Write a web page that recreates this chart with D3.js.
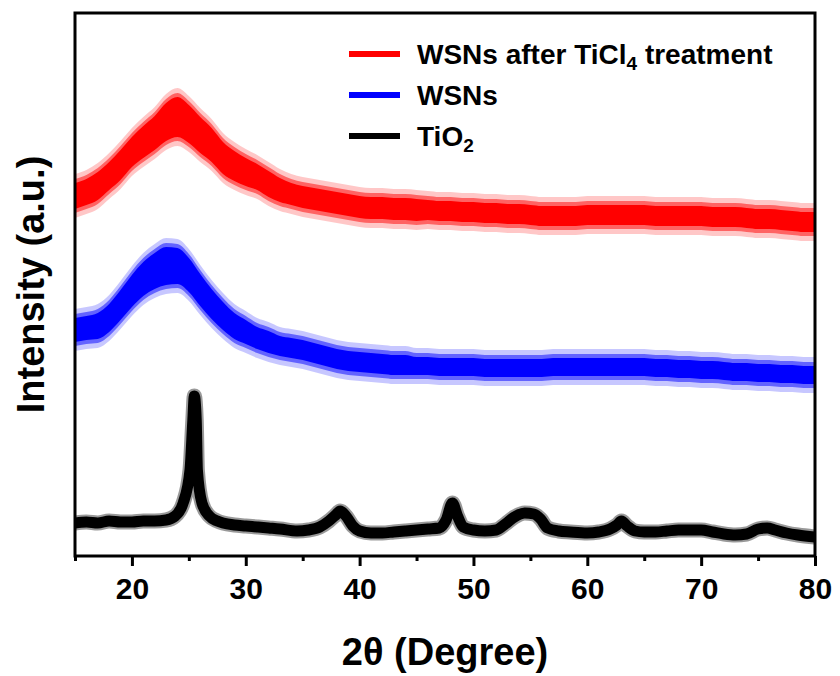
<!DOCTYPE html>
<html>
<head>
<meta charset="utf-8">
<script src="https://cdn.jsdelivr.net/npm/d3@7/dist/d3.min.js"></script>
<style>
  body { margin: 0; background: #fff; }
  text { font-family: "Liberation Sans", Arial, sans-serif; font-weight: bold; fill: #000; }
</style>
</head>
<body>
<svg id="chart" width="840" height="676"></svg>
<script>
// 2θ sample positions (degree) for the two amorphous patterns
var thetaGrid = [15,16,17,18,19,20,21,22,23,24,25,26,27,28,29,30,31,32,33,34,35,36,37,38,39,40,
  41,42,43,44,45,46,47,48,49,50,51,52,53,54,55,56,57,58,59,60,61,62,63,64,65,66,67,68,69,70,
  71,72,73,74,75,76,77,78,79,80];

// WSNs after TiCl4 treatment (offset, a.u.) and half-height of the noise band
var wsnTiI = [360,364,370,380,391,404,414,423,434,439, 432,421,411,398,390,384,379,372,366,362,
  359,357,355,353,351,349,348,348,347,347, 346,346,345,345,344,344,343,343,342,342,
  341,340,340,340,340,341,341,341,341,341, 341,340,340,340,340,340,339,339,339,338,
  337,337,336,335,334,334];
var wsnTiNoise = [13,13,14,14,15,15,16,17,19,20, 19,18,17,16,15,14,13,13,12,11,
  11,11,11,11,11,11,11,11,11,11, 11,10,10,10,10,10,10,10,10,10,
  10,10,10,10,10,10,10,10,10,10, 10,10,10,10,10,10,10,10,10,10,
  10,10,10,10,10,10];

// WSNs
var wsnI = [226,228,230,238,251,265,277,285,290,290, 281,266,252,240,230,224,218,214,210,208,
  206,203,200,197,195,194,193,192,191,191, 190,190,189,189,189,189,188,188,188,188,
  188,188,189,189,189,189,189,189,189,189, 189,188,188,187,187,186,186,185,184,184,
  183,183,182,182,181,181];
var wsnNoise = [12,12,13,14,15,16,17,18,19,18, 17,16,15,14,13,12,11,11,10,10,
  10,10,10,10,10,10,10,10,10,10, 9,9,9,9,9,9,9,9,9,9,
  9,9,9,9,9,9,9,9,9,9, 9,9,9,9,9,9,9,9,9,9,
  9,9,9,9,9,9];

// TiO2 (anatase) pattern
var tio2Theta = [15,16,17,18,19,20,21,22,23,23.8,24.5,25.1,25.35,25.48,25.65,25.75,26.15,26.8,27.5,28,
  29,30,31,32,33,34.5,35.5,36.5,37.3,37.9,38.3,38.8,39.4,40,41,42,43,44,45,46,
  47,47.6,48.15,48.6,49.1,50,51,52,52.8,53.6,54.5,55.3,55.9,56.5,57.5,58.5,60,61,62,62.6,
  63,63.5,64.2,65,66,67,68,69,70,71,72,73,74,75,75.8,76.5,77.5,78.5,80];
var tio2I = [33,34,33,35,34,34,35,35,36,40,53,86,136,160,136,86,53,40,35,33,
  31,30,29,28,27,25,26,29,35,41,45,40,30,25,23,23,24,25,26,27,
  28,36,53,40,29,26,25,26,32,39,43,42,37,28,25,24,23,24,27,31,
  35,30,25,24,24,25,26,26,26,24,22,21,22,27,28,26,23,21,19];

var legendNames = ["WSNs after TiCl", "WSNs", "TiO"];
var legendSubs = ["4", "", "2"];
var legendTails = [" treatment", "", ""];
var colors = ["#ff0000", "#0000ff", "#000000"];
var xTicks = [20, 30, 40, 50, 60, 70, 80];
var xMinorTicks = [15, 25, 35, 45, 55, 65, 75];

var MARGIN = { top: 13, right: 25, bottom: 120, left: 75 };
var width = 840 - MARGIN.left - MARGIN.right;
var height = 676 - MARGIN.top - MARGIN.bottom;

var svg = d3.select("#chart").append("g")
  .attr("transform", "translate(" + MARGIN.left + "," + MARGIN.top + ")");

var x = d3.scaleLinear().domain([15, 80]).range([0, width]);
var y = d3.scaleLinear().domain([0, height]).range([height, 0]);

svg.append("clipPath").attr("id", "plot-clip")
  .append("rect").attr("width", width).attr("height", height);

var plot = svg.append("g").attr("clip-path", "url(#plot-clip)");

function bandData(values, noise) {
  return thetaGrid.map(function(t, i) { return { t: t, v: values[i], n: noise[i] }; });
}

// noise band: solid core plus two softer fringes standing in for the spikes
function drawBand(data, color) {
  [[9, 0.22], [4, 0.5], [0, 1]].forEach(function(f) {
    var a = d3.area().curve(d3.curveMonotoneX)
      .x(function(d) { return x(d.t); })
      .y0(function(d) { return y(d.v - d.n) + f[0]; })
      .y1(function(d) { return y(d.v + d.n) - f[0]; });
    plot.append("path").datum(data).attr("d", a).attr("fill", color).attr("opacity", f[1]);
  });
}

drawBand(bandData(wsnTiI, wsnTiNoise), colors[0]);
drawBand(bandData(wsnI, wsnNoise), colors[1]);

var tio2 = tio2Theta.map(function(t, i) { return { t: t, v: tio2I[i] }; });
var tio2Line = d3.line().curve(d3.curveMonotoneX)
  .x(function(d) { return x(d.t); })
  .y(function(d) { return y(d.v); });
plot.append("path").datum(tio2).attr("d", tio2Line).attr("fill", "none")
  .attr("stroke", colors[2]).attr("stroke-width", 15).attr("stroke-opacity", 0.4)
  .attr("stroke-linejoin", "round");
plot.append("path").datum(tio2).attr("d", tio2Line).attr("fill", "none")
  .attr("stroke", colors[2]).attr("stroke-width", 11).attr("stroke-linejoin", "round");

// frame
svg.append("rect").attr("width", width).attr("height", height)
  .attr("fill", "none").attr("stroke", "#000").attr("stroke-width", 3);

// x axis: major and minor ticks, pointing out
var xAxis = d3.axisBottom(x).tickValues(xTicks).tickSize(10).tickPadding(12);
var xMinor = d3.axisBottom(x).tickValues(xMinorTicks).tickSize(5).tickFormat("");
var gx = svg.append("g").attr("transform", "translate(0," + height + ")").call(xAxis);
var gxm = svg.append("g").attr("transform", "translate(0," + height + ")").call(xMinor);
[gx, gxm].forEach(function(g) {
  g.select(".domain").remove();
  g.selectAll(".tick line").attr("stroke-width", 3);
});
gx.selectAll("text").style("font-size", "30px").attr("fill", "#000");

// axis titles
svg.append("text").attr("x", width / 2).attr("y", 652)
  .attr("text-anchor", "middle").style("font-size", "38px").text("2\u03b8 (Degree)");
svg.append("text").attr("transform", "translate(" + (44 - MARGIN.left) + "," + (height / 2) + ") rotate(-90)")
  .attr("text-anchor", "middle").style("font-size", "38px").text("Intensity (a.u.)");

// legend
var legend = svg.append("g").attr("transform", "translate(274,41)");
legendNames.forEach(function(name, i) {
  var row = legend.append("g").attr("transform", "translate(0," + (i * 41) + ")");
  row.append("line").attr("x1", 0).attr("x2", 51).attr("y1", 0).attr("y2", 0)
    .attr("stroke", colors[i]).attr("stroke-width", 6);
  var t = row.append("text").attr("x", 68).attr("y", 10).style("font-size", "28px");
  t.append("tspan").text(name);
  if (legendSubs[i]) {
    t.append("tspan").attr("dy", 6).style("font-size", "19px").text(legendSubs[i]);
  }
  if (legendTails[i]) {
    t.append("tspan").attr("dy", -6).text(legendTails[i]);
  }
});
</script>
</body>
</html>
